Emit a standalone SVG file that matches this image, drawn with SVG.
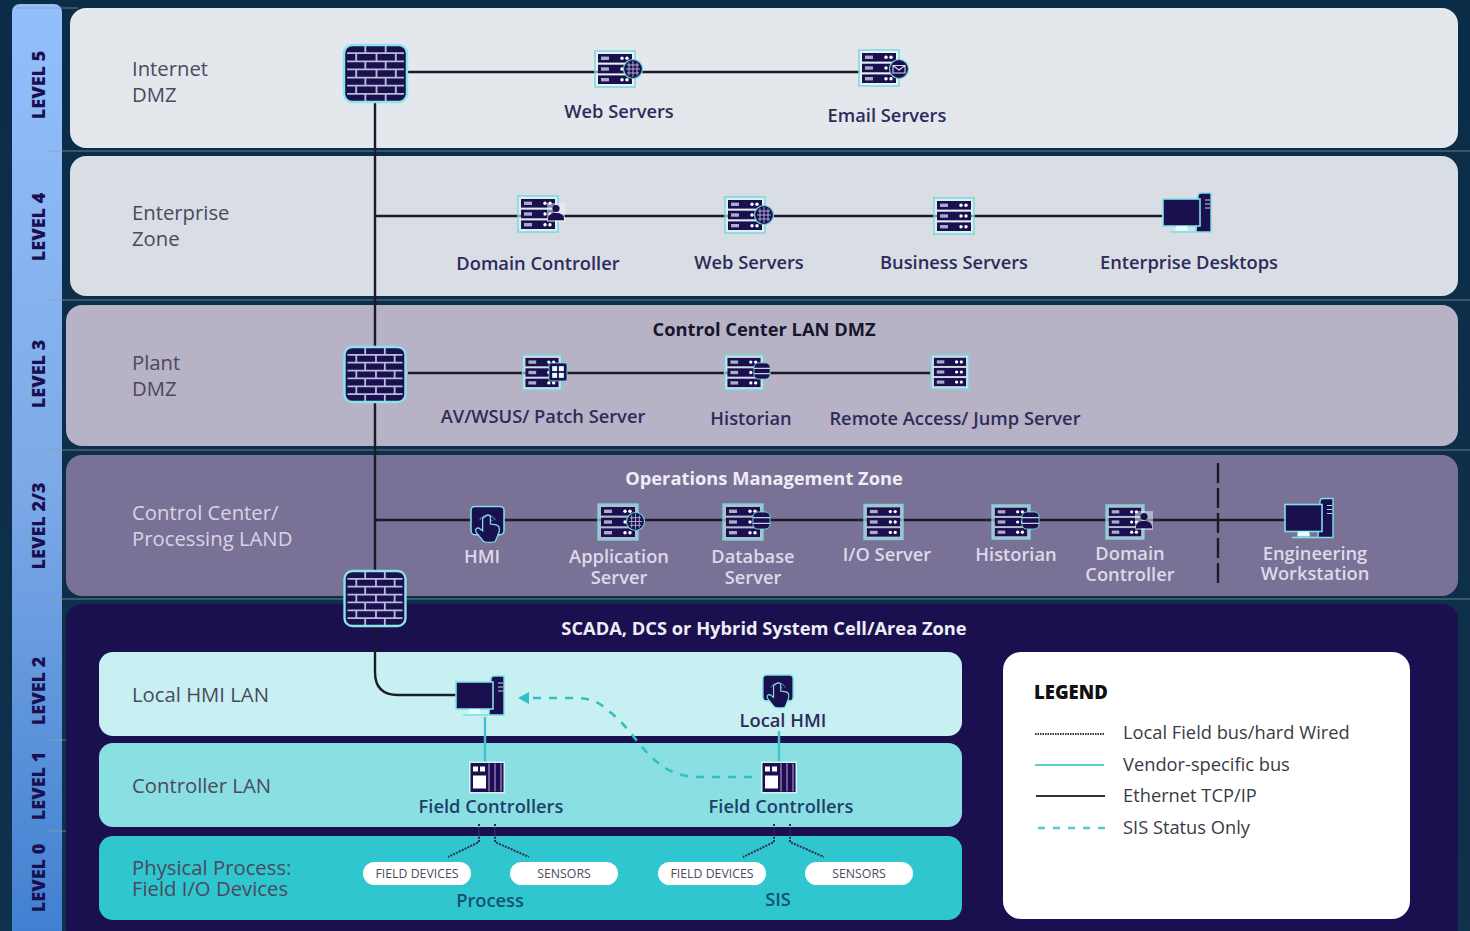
<svg xmlns="http://www.w3.org/2000/svg" width="1470" height="931" viewBox="0 0 1470 931">
<style>
text{font-family:"Open Sans","Noto Sans","Liberation Sans",sans-serif}
.z{font-size:20.3px;fill:#4a4a5c}
.zl{font-size:20.3px;fill:#d8d5e4}
.n{font-size:18.3px;fill:#2e2b5c;text-anchor:middle;font-weight:600}
.nl{font-size:18.3px;fill:#dcdaea;text-anchor:middle;font-weight:600}
.t{font-size:18.3px;text-anchor:middle;font-weight:700}
.lv{font-size:18px;font-weight:800;fill:#1a1050;text-anchor:middle}
.p{font-size:12.3px;fill:#4a4a5c;text-anchor:middle}
.lg{font-size:18.3px;fill:#3a3a46}
.eth{fill:none;stroke:#1a1a28;stroke-width:2.4}
.ven{fill:none;stroke:#3cc5cc;stroke-width:2.4}
.sis{fill:none;stroke:#30bfc6;stroke-width:2.6;stroke-dasharray:8 8}
.dot{fill:none;stroke:#2a2a4a;stroke-width:2;stroke-dasharray:2 1.2}
.sep{stroke:#8ba0ae;stroke-width:1;opacity:.7;fill:none}
.dk{fill:#1a1050}
</style>
<defs>
<linearGradient id="bg" x1="0" y1="0" x2="0" y2="1"><stop offset="0" stop-color="#0b2c46"/><stop offset="1" stop-color="#10314d"/></linearGradient>
<linearGradient id="strip" x1="0" y1="0" x2="0" y2="1"><stop offset="0" stop-color="#93bffc"/><stop offset=".5" stop-color="#7eaae8"/><stop offset="1" stop-color="#3f7fd0"/></linearGradient>
<symbol id="fw" viewBox="0 0 64 58" overflow="visible">
<rect x="1" y="1" width="62" height="56" rx="8" fill="#1a1050" stroke="#8be6ea" stroke-width="2.4"/>
<path d="M4 9H60M4 17H60M4 25H60M4 33H60M4 41H60M4 49H60M22 2V9M42 2V9M13 9V17M33 9V17M52 9V17M22 17V25M42 17V25M13 25V33M33 25V33M52 25V33M22 33V41M42 33V41M13 41V49M33 41V49M52 41V49M22 49V56M42 49V56" fill="none" stroke="#b9bdd8" stroke-width="1.8"/>
</symbol>
<symbol id="srv" viewBox="0 0 40 36" overflow="visible">
<rect x="0" y="0" width="40" height="36" fill="#e8fbfc" fill-opacity=".55" stroke="#6fd8dc" stroke-width="1.4"/>
<g class="dk"><rect x="3" y="3" width="34" height="8.6"/><rect x="3" y="13.7" width="34" height="8.6"/><rect x="3" y="24.4" width="34" height="8.6"/></g>
<g fill="#a9adc8"><rect x="6" y="5.6" width="8" height="3.4"/><rect x="6" y="16.3" width="8" height="3.4"/><rect x="6" y="27" width="8" height="3.4"/></g>
<g fill="#fff"><circle cx="27" cy="7.3" r="1.7"/><circle cx="32" cy="7.3" r="1.7"/><circle cx="27" cy="18" r="1.7"/><circle cx="32" cy="18" r="1.7"/><circle cx="27" cy="28.7" r="1.7"/><circle cx="32" cy="28.7" r="1.7"/></g>
</symbol>
<symbol id="globe" viewBox="0 0 20 20" overflow="visible"><circle cx="10" cy="10" r="9.5" fill="#1a1050" stroke="#6fd8dc" stroke-width="1.2"/><path d="M3 10H17M4 6H16M4 14H16M10 2V18M6 3.5V16.5M14 3.5V16.5" stroke="#b9bdd8" stroke-width=".9" fill="none"/></symbol>
<symbol id="person" viewBox="0 0 20 20" overflow="visible"><rect x="0" y="-1" width="20" height="21" fill="#e8fbfc" fill-opacity=".5"/><circle cx="10" cy="5" r="4" fill="#1a1050"/><path d="M1 18C1 12 5 10 10 10S19 12 19 18Z" fill="#1a1050"/></symbol>
<symbol id="grid" viewBox="0 0 20 20" overflow="visible"><rect x="0" y="0" width="20" height="20" rx="2" fill="#1a1050" stroke="#6fd8dc" stroke-width="1"/><g fill="#e8fbfc"><rect x="3.5" y="3.5" width="5.5" height="5.5"/><rect x="11" y="3.5" width="5.5" height="5.5"/><rect x="3.5" y="11" width="5.5" height="5.5"/><rect x="11" y="11" width="5.5" height="5.5"/></g></symbol>
<symbol id="db" viewBox="0 0 20 20" overflow="visible"><rect x="1" y="1" width="18" height="18" rx="5" fill="#1a1050" stroke="#6fd8dc" stroke-width="1"/><path d="M1 7H19M1 13H19" stroke="#c9cde0" stroke-width="1.3"/></symbol>
<symbol id="env" viewBox="0 0 20 20" overflow="visible"><circle cx="10" cy="10" r="9.5" fill="#1a1050" stroke="#6fd8dc" stroke-width="1.2"/><path d="M4 6.5H16V14H4ZM4 6.5L10 11L16 6.5" fill="none" stroke="#d8dbe9" stroke-width="1.1"/></symbol>
<symbol id="pc" viewBox="0 0 50 42" overflow="visible">
<path d="M36 4Q36 1 39 1H49V40H34Z" fill="#1a1050" stroke="#7fe0e4" stroke-width="1.4"/>
<path d="M43 8H48M43 12H48M43 16H48" stroke="#c9cde0" stroke-width="1.2"/>
<rect x="1" y="7" width="37" height="27" fill="#1a1050" stroke="#7fe0e4" stroke-width="1.6"/>
<path d="M14 34H25L26 39H13Z" fill="#e4fbfc"/>
<path d="M8 40H33" stroke="#7fe0e4" stroke-width="1.6"/>
</symbol>
<symbol id="hmi" viewBox="0 0 36 38" overflow="visible">
<rect x="1" y="1" width="34" height="29" rx="4" fill="#1a1050" stroke="#7fe0e4" stroke-width="1.6"/>
<path d="M10 15A9 9 0 0 1 26 15M13 16A6 6 0 0 1 23 16" fill="none" stroke="#7f8fc0" stroke-width="1"/>
<path d="M16 11Q18.500 8.500 21 11V19L27 20Q31 21 30 27L26 37Q20 39 14 37L6 27Q5 23 9 23L13 26V13Z" fill="#1a1050" stroke="#7fe0e4" stroke-width="1.300"/>
</symbol>
<symbol id="fc" viewBox="0 0 36 32" overflow="visible">
<rect x="0" y="0" width="36" height="32" fill="#eefcfc" fill-opacity=".7"/>
<rect x="1.500" y="1.500" width="33" height="29" class="dk"/>
<rect x="4" y="5" width="5" height="5" fill="#fff"/><rect x="11" y="5" width="5" height="5" fill="#fff"/>
<rect x="4" y="14" width="13" height="13" fill="#fff"/>
<path d="M20 2V30M26 2V30M32 2V30" stroke="#b784c9" stroke-width="1.200"/>
</symbol>
</defs>
<rect width="1470" height="931" fill="url(#bg)"/>
<rect x="12" y="4" width="50" height="940" rx="8" fill="url(#strip)"/>
<g id="levels">
<text class="lv" transform="translate(45 85) rotate(-90)">LEVEL 5</text>
<text class="lv" transform="translate(45 227) rotate(-90)">LEVEL 4</text>
<text class="lv" transform="translate(45 374) rotate(-90)">LEVEL 3</text>
<text class="lv" transform="translate(45 526) rotate(-90)">LEVEL 2/3</text>
<text class="lv" transform="translate(45 691) rotate(-90)">LEVEL 2</text>
<text class="lv" transform="translate(45 786) rotate(-90)">LEVEL 1</text>
<text class="lv" transform="translate(45 878) rotate(-90)">LEVEL 0</text>
</g>
<g id="separators">
<path class="sep" d="M16 8H78M48 151H1470M48 300H1470M48 450H1470M48 599H1470M48 740H972M48 831H972"/>
</g>
<g id="zones">
<rect x="70" y="8" width="1388" height="140" rx="16" fill="#e4e7ec"/>
<rect x="70" y="156" width="1388" height="140" rx="16" fill="#d9dde4"/>
<rect x="66" y="305" width="1392" height="141" rx="16" fill="#b7b2c5"/>
<rect x="66" y="455" width="1392" height="141" rx="16" fill="#7a7196"/>
<rect x="66" y="604" width="1392" height="340" rx="16" fill="#1a1050"/>
<rect x="99" y="652" width="863" height="84" rx="14" fill="#c8f0f2"/>
<rect x="99" y="743" width="863" height="84" rx="14" fill="#8adfe2"/>
<rect x="99" y="836" width="863" height="84" rx="14" fill="#2fc6cf"/>
</g>
<g id="zone-labels">
<text class="z" x="132" y="76">Internet<tspan x="132" dy="26">DMZ</tspan></text>
<text class="z" x="132" y="220">Enterprise<tspan x="132" dy="26">Zone</tspan></text>
<text class="z" x="132" y="370">Plant<tspan x="132" dy="26">DMZ</tspan></text>
<text class="zl" x="132" y="520">Control Center/<tspan x="132" dy="26">Processing LAND</tspan></text>
<text class="z" x="132" y="702">Local HMI LAN</text>
<text class="z" x="132" y="793">Controller LAN</text>
<text class="z" x="132" y="875">Physical Process:<tspan x="132" dy="21">Field I/O Devices</tspan></text>
<text class="t" x="764" y="336" fill="#16162e">Control Center LAN DMZ</text>
<text class="t" x="764" y="485" fill="#eeedf5">Operations Management Zone</text>
<text class="t" x="764" y="635" fill="#eeedf5">SCADA, DCS or Hybrid System Cell/Area Zone</text>
</g>
<g id="connectors">
<path class="eth" d="M375 103V672Q375 695 398 695H456"/>
<path class="eth" d="M408 72H860M375 216H1162M408 373H930M375 520H1285"/>
<path d="M1218 463V585" fill="none" stroke="#1a1a28" stroke-width="2.400" stroke-dasharray="20 5"/>
<path class="ven" d="M485 717V762M779 731V761"/>
<path class="sis" d="M752 777H700C650 777 640 735 610 712C595 698 585 698 570 698H530"/>
<path d="M518 698L529 692V704Z" fill="#30bfc6"/>
<path class="dot" d="M479 824V842L448 857M495 824V842L529 857M774 824V842L743 857M790 824V842L824 857"/>
</g>
<g id="fw1"><use href="#fw" x="343" y="44" width="65" height="59"/></g>
<g id="fw2"><use href="#fw" x="343" y="346" width="64" height="57"/></g>
<g id="fw3"><use href="#fw" x="343" y="570" width="64" height="57"/></g>
<g id="n-web5"><use href="#srv" x="595" y="51" width="40" height="36"/><use href="#globe" x="623" y="59" width="20" height="20"/><text class="n" x="619" y="118">Web Servers</text></g>
<g id="n-email"><use href="#srv" x="859" y="50" width="40" height="36"/><use href="#env" x="889" y="59" width="20" height="20"/><text class="n" x="887" y="122">Email Servers</text></g>
<g id="n-dc4"><use href="#srv" x="518" y="196" width="40" height="36"/><use href="#person" x="547" y="204" width="18" height="18"/><text class="n" x="538" y="270">Domain Controller</text></g>
<g id="n-web4"><use href="#srv" x="725" y="197" width="40" height="36"/><use href="#globe" x="754" y="205" width="20" height="20"/><text class="n" x="749" y="269">Web Servers</text></g>
<g id="n-biz"><use href="#srv" x="934" y="198" width="40" height="36"/><text class="n" x="954" y="269">Business Servers</text></g>
<g id="n-desk"><use href="#pc" x="1162" y="192" width="50" height="42"/><text class="n" x="1189" y="269">Enterprise Desktops</text></g>
<g id="n-av"><use href="#srv" x="522" y="355" width="40" height="35"/><use href="#grid" x="549" y="363" width="18" height="18"/><text class="n" x="543" y="423">AV/WSUS/ Patch Server</text></g>
<g id="n-hist3"><use href="#srv" x="724" y="355" width="40" height="35"/><use href="#db" x="753" y="362" width="18" height="18"/><text class="n" x="751" y="425">Historian</text></g>
<g id="n-remote"><use href="#srv" x="930" y="355" width="40" height="34"/><text class="n" x="955" y="425">Remote Access/ Jump Server</text></g>
<g id="n-hmi"><use href="#hmi" x="470" y="505" width="35" height="38"/><text class="nl" x="482" y="563">HMI</text></g>
<g id="n-app"><use href="#srv" x="598" y="504" width="40" height="36"/><use href="#globe" x="626" y="512" width="19" height="19"/><text class="nl" x="619" y="563">Application<tspan x="619" dy="21">Server</tspan></text></g>
<g id="n-dbs"><use href="#srv" x="723" y="504" width="40" height="36"/><use href="#db" x="752" y="511" width="19" height="19"/><text class="nl" x="753" y="563">Database<tspan x="753" dy="21">Server</tspan></text></g>
<g id="n-io"><use href="#srv" x="864" y="504" width="39" height="36"/><text class="nl" x="887" y="561">I/O Server</text></g>
<g id="n-hist2"><use href="#srv" x="992" y="504" width="38" height="36"/><use href="#db" x="1021" y="511" width="19" height="19"/><text class="nl" x="1016" y="561">Historian</text></g>
<g id="n-dc2"><use href="#srv" x="1106" y="504" width="38" height="36"/><use href="#person" x="1135" y="512" width="18" height="18"/><text class="nl" x="1130" y="560">Domain<tspan x="1130" dy="21">Controller</tspan></text></g>
<g id="n-eng"><use href="#pc" x="1284" y="497" width="50" height="43"/><text class="nl" x="1315" y="560">Engineering<tspan x="1315" dy="20">Workstation</tspan></text></g>
<g id="n-pc"><use href="#pc" x="455" y="675" width="50" height="42"/></g>
<g id="n-lhmi"><use href="#hmi" x="762" y="672" width="32" height="38"/><text class="n" x="783" y="727">Local HMI</text></g>
<g id="n-fc1"><use href="#fc" x="469" y="761" width="36" height="33"/><text class="n" x="491" y="813" style="fill:#1f3f6a">Field Controllers</text></g>
<g id="n-fc2"><use href="#fc" x="761" y="761" width="36" height="33"/><text class="n" x="781" y="813" style="fill:#1f3f6a">Field Controllers</text></g>
<g id="pills">
<rect x="363" y="862" width="108" height="23" rx="11.500" fill="#fff"/><text class="p" x="417" y="878">FIELD DEVICES</text>
<rect x="510" y="862" width="108" height="23" rx="11.500" fill="#fff"/><text class="p" x="564" y="878">SENSORS</text>
<rect x="658" y="862" width="108" height="23" rx="11.500" fill="#fff"/><text class="p" x="712" y="878">FIELD DEVICES</text>
<rect x="805" y="862" width="108" height="23" rx="11.500" fill="#fff"/><text class="p" x="859" y="878">SENSORS</text>
<text class="n" x="490" y="907" style="fill:#17506f">Process</text>
<text class="n" x="778" y="906" style="fill:#17506f">SIS</text>
</g>
<g id="legend">
<rect x="1003" y="652" width="407" height="267" rx="18" fill="#fff"/>
<text x="1034" y="699" font-size="18.500" font-weight="800" fill="#111">LEGEND</text>
<path d="M1035 734H1104" stroke="#333" stroke-width="2" stroke-dasharray="1.500 1" fill="none"/>
<path d="M1035 765H1104" stroke="#58cdd3" stroke-width="2.200" fill="none"/>
<path d="M1036 796H1105" stroke="#333" stroke-width="2.200" fill="none"/>
<path d="M1038 828H1105" stroke="#4fcbd2" stroke-width="2.400" stroke-dasharray="7 8" fill="none"/>
<text class="lg" x="1123" y="739">Local Field bus/hard Wired</text>
<text class="lg" x="1123" y="771">Vendor-specific bus</text>
<text class="lg" x="1123" y="802">Ethernet TCP/IP</text>
<text class="lg" x="1123" y="834">SIS Status Only</text>
</g>
</svg>
